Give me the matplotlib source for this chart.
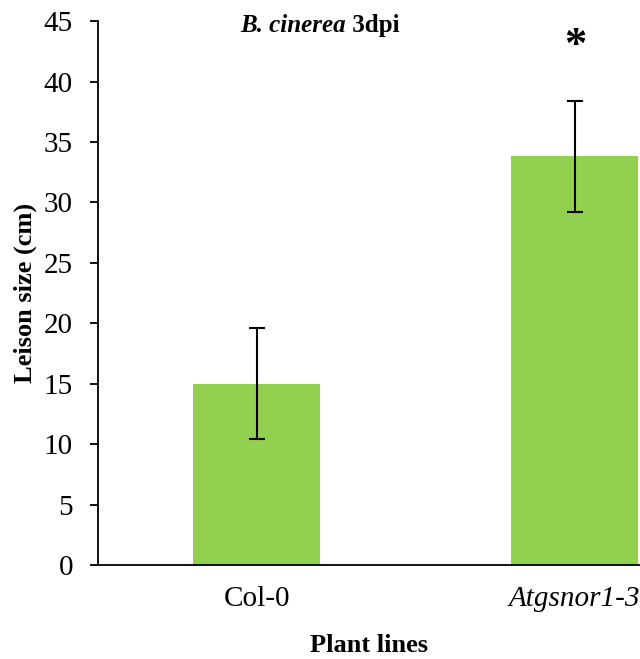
import matplotlib
matplotlib.use("Agg")
import matplotlib.pyplot as plt

plt.rcParams['font.family'] = ['Liberation Serif', 'DejaVu Serif']

# data
lines = ['Col-0', 'Atgsnor1-3']
lesion = [15.0, 33.8]
err = [4.6, 4.6]
bar_color = '#92D050'

fig = plt.figure(figsize=(6.4, 6.59), dpi=100)
ax = fig.add_axes([0.153, 0.1426, 0.847, 0.8254])

x = list(range(len(lines)))
ax.bar(x, lesion, width=0.4, color=bar_color, zorder=2)
ax.errorbar(x, lesion, yerr=err, fmt='none', ecolor='black',
            elinewidth=1.5, capsize=5.5, capthick=1.5, zorder=3)

ax.set_xlim(-0.5, 1.205)
ax.set_ylim(0, 45)
ax.set_yticks(range(0, 46, 5))
ax.set_xticks(x)
ax.set_xticklabels(lines)
ax.get_xticklabels()[1].set_style('italic')

ax.spines['top'].set_visible(False)
ax.spines['right'].set_visible(False)
ax.spines['left'].set_linewidth(1.3)
ax.spines['bottom'].set_linewidth(1.3)
ax.tick_params(axis='y', labelsize=21, length=6, width=1.3, pad=12)
ax.tick_params(axis='x', labelsize=21, length=0, pad=15)

ax.set_ylabel('Leison size (cm)', fontsize=19, fontweight='bold', labelpad=5)
ax.set_xlabel('Plant lines', fontsize=19, fontweight='bold', labelpad=16)

# significance mark
ax.text(1, 42.9, '*', ha='center', va='center', fontsize=32, fontweight='bold')

# title: italic species + plain bold time point
t1 = fig.text(0.376, 0.961, 'B. cinerea', fontsize=18, fontweight='bold',
              style='italic', ha='left', va='center')
ax.annotate(' 3dpi', xy=(1, 0.5), xycoords=t1, fontsize=18, fontweight='bold',
            ha='left', va='center')

fig.savefig('out.png', dpi=100)
